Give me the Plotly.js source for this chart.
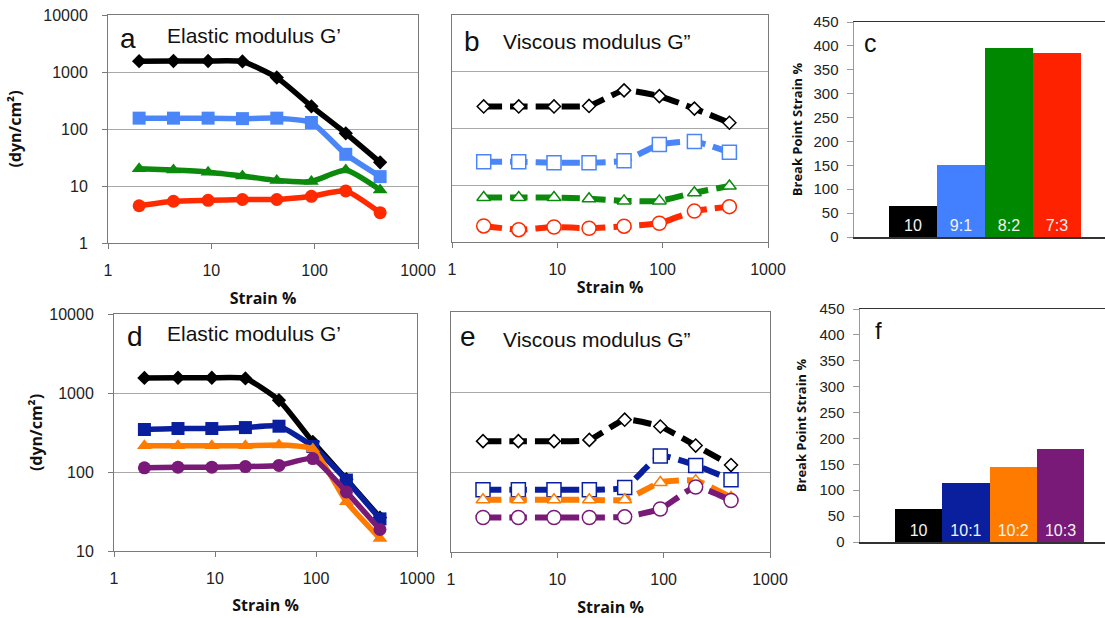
<!DOCTYPE html>
<html>
<head>
<meta charset="utf-8">
<script src="https://cdn.plot.ly/plotly-3.0.1.min.js"></script>
<style>html,body{margin:0;padding:0;background:#fff;}#chart{width:1105px;height:618px;}</style>
</head>
<body>
<div id="chart"></div>
<script>
// ---------- data ----------
const strain = [2, 4.3, 9.3, 20, 43, 93, 200, 430];

// panel a: elastic modulus G' (dyn/cm2)
const aBlack = [1550, 1560, 1560, 1530, 800, 250, 84, 26];
const aBlue  = [155, 155, 155, 152, 155, 130, 36, 14.6];
const aGreen = [20, 19, 17.5, 15, 12.5, 12, 19, 8.5];
const aRed   = [4.5, 5.4, 5.6, 5.8, 5.8, 6.6, 8.2, 3.4];

// panel b: viscous modulus G''
const bBlack = [245, 245, 245, 250, 470, 372, 224, 126];
const bBlue  = [26, 26, 25, 25, 27, 52, 59, 38];
const bGreen = [6.1, 6.1, 6.1, 5.8, 5.3, 5.3, 7.4, 9.7];
const bRed   = [1.92, 1.65, 1.84, 1.75, 1.9, 2.14, 3.5, 4.2];

// panel c: break point strain %
const cLabels = ['10', '9:1', '8:2', '7:3'];
const cVals   = [65, 150, 395, 385];

// panel d: elastic modulus G'
const dBlack  = [1550, 1560, 1560, 1530, 810, 241, 81, 26.5];
const dBlue   = [345, 355, 355, 365, 380, 210, 79, 25.5];
const dOrange = [215, 215, 215, 215, 220, 195, 42, 14.4];
const dPurple = [113, 115, 115, 117, 121, 148, 56, 18.7];

// panel e: viscous modulus G''
const eBlack  = [243, 243, 243, 252, 451, 370, 214, 122];
const eBlue   = [60, 60, 60, 60, 64, 158, 121, 80];
const eOrange = [45, 45, 45, 45, 45, 74, 78, 48];
const ePurple = [27, 27, 27, 27, 27.5, 34.5, 65, 44];

// panel f: break point strain %
const fLabels = ['10', '10:1', '10:2', '10:3'];
const fVals   = [64, 114, 145, 180];

const yTickVals = [1, 10, 100, 1000, 10000];
const xTickVals = [1, 10, 100, 1000];

// ---------- styling ----------
const W = 1105, H = 618;
const xd = (a, b) => [a / W, b / W];
const yd = (t, b) => [1 - b / H, 1 - t / H];
const px = v => v / W, py = v => 1 - v / H;

const C = {
  black: '#000000', blue: '#4a86f7', green: '#0c8a0c', red: '#ff2a00',
  dblue: '#0a1f9e', orange: '#ff7b00', purple: '#7a1a78',
  barBlue: '#4380ff', barGreen: '#008800', barRed: '#ff2200'
};
const tickFont = {family: 'Liberation Sans, Arial, sans-serif', size: 16, color: '#222'};
const boldFont = {family: 'Open Sans, sans-serif', size: 16, color: '#111', weight: 'bold'};

function solid(x, y, color, symbol, size, xa, ya) {
  return {x: x, y: y, xaxis: xa, yaxis: ya, type: 'scatter', mode: 'lines+markers',
    line: {color: color, width: 5.5, shape: 'spline', smoothing: 0.5},
    marker: {color: color, symbol: symbol, size: size}, showlegend: false, cliponaxis: false};
}
function dashed(x, y, color, symbol, size, xa, ya) {
  return {x: x, y: y, xaxis: xa, yaxis: ya, type: 'scatter', mode: 'lines+markers',
    line: {color: color, width: 6, dash: '18px,8px', shape: 'spline', smoothing: 0.5},
    marker: {color: '#ffffff', symbol: symbol, size: size, line: {color: color, width: 1.5}},
    showlegend: false, cliponaxis: false};
}
function bars(x, y, colors, xa, ya) {
  return {x: x, y: y, xaxis: xa, yaxis: ya, type: 'bar', text: x,
    textposition: 'inside', insidetextanchor: 'start', textangle: 0,
    textfont: {family: 'Liberation Sans, Arial, sans-serif', size: 16, color: '#f4f4f4'},
    marker: {color: colors, line: {width: 0}}, showlegend: false, hoverinfo: 'x+y'};
}

const data = [
  solid(strain, aBlack, C.black, 'diamond', 11, 'x', 'y'),
  solid(strain, aBlue, C.blue, 'square', 13, 'x', 'y'),
  solid(strain, aGreen, C.green, 'triangle-up', 13, 'x', 'y'),
  solid(strain, aRed, C.red, 'circle', 13, 'x', 'y'),

  dashed(strain, bBlack, C.black, 'diamond', 10, 'x2', 'y2'),
  dashed(strain, bBlue, C.blue, 'square', 14, 'x2', 'y2'),
  dashed(strain, bGreen, C.green, 'triangle-up', 12, 'x2', 'y2'),
  dashed(strain, bRed, C.red, 'circle', 14, 'x2', 'y2'),

  bars(cLabels, cVals, [C.black, C.barBlue, C.barGreen, C.barRed], 'x3', 'y3'),

  solid(strain, dBlack, C.black, 'diamond', 11, 'x4', 'y4'),
  solid(strain, dBlue, C.dblue, 'square', 13, 'x4', 'y4'),
  solid(strain, dOrange, C.orange, 'triangle-up', 13, 'x4', 'y4'),
  solid(strain, dPurple, C.purple, 'circle', 13, 'x4', 'y4'),

  dashed(strain, eBlack, C.black, 'diamond', 10, 'x5', 'y5'),
  dashed(strain, eBlue, C.dblue, 'square', 14, 'x5', 'y5'),
  dashed(strain, eOrange, C.orange, 'triangle-up', 12, 'x5', 'y5'),
  dashed(strain, ePurple, C.purple, 'circle', 14, 'x5', 'y5'),

  bars(fLabels, fVals, [C.black, C.dblue, C.orange, C.purple], 'x6', 'y6')
];

function logX(dom, anchor, standoff) {
  return {type: 'log', domain: dom, anchor: anchor, range: [0, 3], tickvals: xTickVals,
    ticktext: xTickVals.map(String), showgrid: false, zeroline: false,
    showline: true, linecolor: '#7a7a7a', linewidth: 1, mirror: true,
    ticks: 'outside', ticklen: 5, tickcolor: '#7a7a7a', tickfont: tickFont,
    ticklabelstandoff: 8,
    title: {text: 'Strain %', font: boldFont, standoff: standoff}};
}
function logY(dom, anchor, range, labels, title, standoff) {
  return {type: 'log', domain: dom, anchor: anchor, range: range, tickvals: yTickVals,
    ticktext: yTickVals.map(String), showticklabels: labels,
    showgrid: true, gridcolor: '#a8a8a8', gridwidth: 1, zeroline: false,
    showline: true, linecolor: '#7a7a7a', linewidth: 1, mirror: true,
    ticks: labels ? 'outside' : '', ticklen: 5, tickcolor: '#7a7a7a', tickfont: tickFont,
    ticklabelstandoff: 11,
    title: title ? {text: title, font: boldFont, standoff: standoff} : undefined};
}
function barX(dom, anchor, range) {
  return {type: 'category', domain: dom, anchor: anchor, range: range, showticklabels: false,
    ticks: '', showgrid: false, zeroline: false, showline: true, linecolor: '#333',
    linewidth: 1.5, mirror: true};
}
function barY(dom, anchor, standoff) {
  return {domain: dom, anchor: anchor, range: [0, 450], dtick: 50, showgrid: false,
    zeroline: false, showline: true, linecolor: '#9a9a9a', linewidth: 1.5,
    ticks: 'outside', ticklen: 6, tickcolor: '#9a9a9a',
    tickfont: {family: 'Liberation Sans, Arial, sans-serif', size: 15, color: '#222'},
    ticklabelstandoff: 5,
    title: {text: 'Break Point Strain %', font: {family: 'Open Sans, sans-serif', size: 13, color: '#111', weight: 'bold'}, standoff: standoff}};
}

const letterFont = {family: 'Liberation Sans, Arial, sans-serif', size: 28, color: '#111'};
const headFont = {family: 'Liberation Sans, Arial, sans-serif', size: 21, color: '#111'};
function ann(text, x, y, font, xanchor) {
  return {text: text, x: px(x), y: py(y), xref: 'paper', yref: 'paper', showarrow: false,
    xanchor: xanchor || 'center', yanchor: 'middle', font: font};
}

const layout = {
  width: W, height: H, margin: {l: 0, r: 0, t: 0, b: 0},
  paper_bgcolor: '#fff', plot_bgcolor: '#fff', bargap: 0, showlegend: false,
  xaxis: logX(xd(108, 418), 'y', 14),
  yaxis: logY(yd(15, 243), 'x', [0, 4], true, '(dyn/cm²)', 17),
  xaxis2: logX(xd(452, 768), 'y2', 4),
  yaxis2: logY(yd(15, 242), 'x2', [0, 4], false, null, 0),
  xaxis3: barX(xd(854, 1105), 'y3', [-1.23, 4.0]),
  yaxis3: barY(yd(22, 237), 'x3', 8),
  xaxis4: logX(xd(114, 417), 'y4', 13),
  yaxis4: logY(yd(314, 551), 'x4', [1, 4], true, '(dyn/cm²)', 2),
  xaxis5: logX(xd(451, 770), 'y5', 14),
  yaxis5: logY(yd(312, 552), 'x5', [1, 4], false, null, 0),
  xaxis6: barX(xd(860, 1105), 'y6', [-1.24, 3.94]),
  yaxis6: barY(yd(309, 542), 'x6', 10),
  annotations: [
    ann('a', 128, 38, letterFont),
    ann('Elastic modulus G’', 165, 36, headFont, 'left'),
    ann('b', 472, 42, letterFont),
    ann('Viscous modulus G”', 501, 42, headFont, 'left'),
    ann('c', 870, 43, {family: 'Liberation Sans, Arial, sans-serif', size: 25, color: '#111'}),
    ann('d', 135, 336, letterFont),
    ann('Elastic modulus G’', 165, 333, headFont, 'left'),
    ann('e', 468, 336, letterFont),
    ann('Viscous modulus G”', 501, 339, headFont, 'left'),
    ann('f', 878, 330, {family: 'Liberation Sans, Arial, sans-serif', size: 24, color: '#111'})
  ]
};

Plotly.newPlot('chart', data, layout, {displayModeBar: false, staticPlot: true});
</script>
</body>
</html>
